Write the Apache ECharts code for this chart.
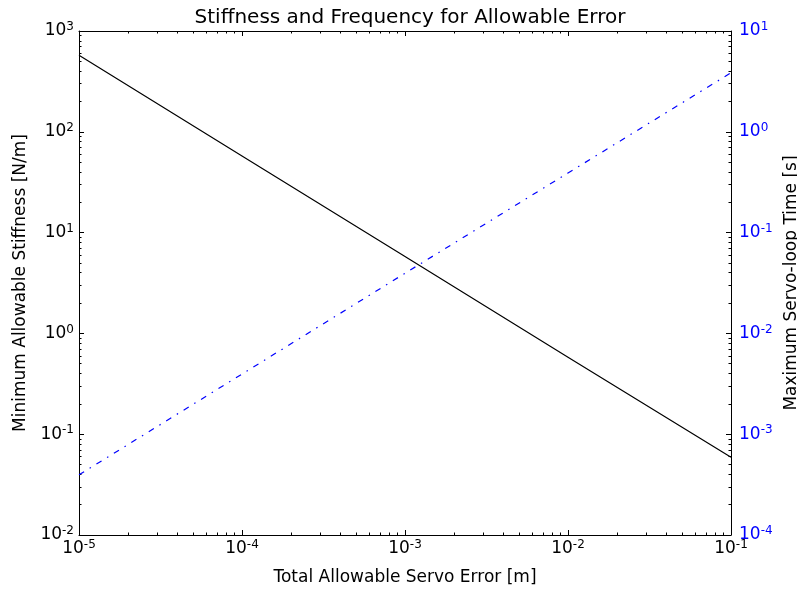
<!DOCTYPE html>
<html>
<head>
<meta charset="utf-8">
<script src="https://cdn.jsdelivr.net/npm/echarts@6/dist/echarts.min.js"></script>
<style>html,body{margin:0;padding:0;background:#fff;}#c{width:797px;height:594px;}</style>
</head>
<body>
<div id="c"></div>
<script>
// Data
var servoError = [1e-5, 1e-4, 1e-3, 1e-2, 1e-1];          // Total Allowable Servo Error [m]
var stiffness  = [575, 57.5, 5.8, 0.58, 0.059];           // Minimum Allowable Stiffness [N/m]
var servoTime  = [3.95e-4, 3.95e-3, 0.0395, 0.39, 3.85];  // Maximum Servo-loop Time [s]
var xExpRange  = [-5, -1];
var yLeftExpRange  = [-2, 3];
var yRightExpRange = [-4, 1];

function minorTicks(r) {
  var out = [];
  for (var k = r[0]; k < r[1]; k++) {
    for (var m = 2; m <= 9; m++) out.push(m * Math.pow(10, k));
  }
  return out;
}
function majorTicks(r) {
  var out = [];
  for (var k = r[0]; k <= r[1]; k++) out.push(Math.pow(10, k));
  return out;
}

var FONT = 'DejaVu Sans';
function fmt(v) {
  var e = Math.round(Math.log10(v));
  return '{b|10}{s|' + e + '}';
}
function rich(color) {
  return {
    b: {fontSize: 17, lineHeight: 20, fontFamily: FONT, color: color},
    s: {fontSize: 12, fontFamily: FONT, color: color, verticalAlign: 'top'}
  };
}
var lineStyle = {color: '#000', width: 1};

function xAxisDef(pos, minor, labels) {
  return {
    type: 'log', logBase: 10, position: pos, gridIndex: 0,
    min: Math.pow(10, xExpRange[0]), max: Math.pow(10, xExpRange[1]),
    axisLine: {show: !minor, onZero: false, lineStyle: lineStyle},
    axisTick: {show: true, inside: true, length: minor ? 2.5 : 5, lineStyle: lineStyle,
               customValues: minor ? minorTicks(xExpRange) : majorTicks(xExpRange)},
    axisLabel: labels ? {show: true, formatter: fmt, rich: rich('#000'), margin: 4,
               customValues: majorTicks(xExpRange)} : {show: false},
    splitLine: {show: false}, minorTick: {show: false}
  };
}
function yAxisDef(pos, range, minor, labels, color) {
  return {
    type: 'log', logBase: 10, position: pos, gridIndex: 0,
    min: Math.pow(10, range[0]), max: Math.pow(10, range[1]),
    axisLine: {show: !minor, onZero: false, lineStyle: lineStyle},
    axisTick: {show: true, inside: true, length: minor ? 2.5 : 5, lineStyle: lineStyle,
               customValues: minor ? minorTicks(range) : majorTicks(range)},
    axisLabel: labels ? {show: true, formatter: fmt, rich: rich(color), margin: pos === 'left' ? 5 : 8,
               customValues: majorTicks(range)} : {show: false},
    splitLine: {show: false}, minorTick: {show: false}
  };
}

var xa0 = xAxisDef('bottom', false, true);
xa0.name = 'Total Allowable Servo Error [m]';
xa0.nameLocation = 'middle';
xa0.nameGap = 34;
xa0.nameTextStyle = {fontSize: 17, fontFamily: FONT, color: '#000', verticalAlign: 'top'};

var ya0 = yAxisDef('left', yLeftExpRange, false, true, '#000');
ya0.name = 'Minimum Allowable Stiffness [N/m]';
ya0.nameLocation = 'middle';
ya0.nameGap = 50;
ya0.nameTextStyle = {fontSize: 17, fontFamily: FONT, color: '#000'};

var ya2 = yAxisDef('right', yRightExpRange, false, true, '#0000ff');
ya2.name = 'Maximum Servo-loop Time [s]';
ya2.nameLocation = 'middle';
ya2.nameGap = 45;
ya2.nameTextStyle = {fontSize: 17, fontFamily: FONT, color: '#000'};

var option = {
  backgroundColor: '#fff',
  animation: false,
  title: {
    text: 'Stiffness and Frequency for Allowable Error',
    left: 405, top: 3, textAlign: 'center',
    textStyle: {fontSize: 20, fontWeight: 'normal', fontFamily: FONT, color: '#000'}
  },
  grid: {left: 79, right: 66, top: 31, bottom: 59, containLabel: false, outerBoundsMode: 'none'},
  xAxis: [
    xa0,
    xAxisDef('bottom', true, false),
    xAxisDef('top', false, false),
    xAxisDef('top', true, false)
  ],
  yAxis: [
    ya0,
    yAxisDef('left', yLeftExpRange, true, false),
    ya2,
    yAxisDef('right', yRightExpRange, true, false)
  ],
  series: [
    {
      type: 'line', xAxisIndex: 0, yAxisIndex: 0, showSymbol: false, symbol: 'none',
      data: servoError.map(function (x, i) { return [x, stiffness[i]]; }),
      lineStyle: {color: '#000', width: 1.2}
    },
    {
      type: 'line', xAxisIndex: 0, yAxisIndex: 2, showSymbol: false, symbol: 'none',
      data: servoError.map(function (x, i) { return [x, servoTime[i]]; }),
      lineStyle: {color: '#0000ff', width: 1.2, type: [6, 6.5, 1.5, 6.5]}
    }
  ]
};
var chart = echarts.init(document.getElementById('c'), null, {renderer: 'canvas'});
chart.setOption(option);
</script>
</body>
</html>
